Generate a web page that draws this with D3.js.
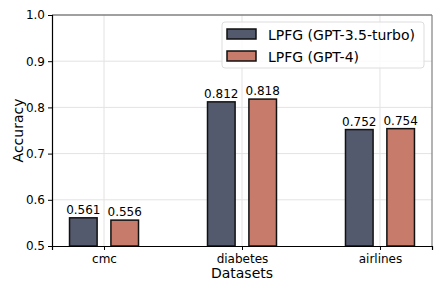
<!DOCTYPE html>
<html>
<head>
<meta charset="utf-8">
<script src="https://d3js.org/d3.v7.min.js"></script>
<style>
  body { margin: 0; background: #fff; }
  text { font-family: "DejaVu Sans", sans-serif; }
</style>
</head>
<body>
<div id="chart"></div>
<script>
// data
const datasets = ["cmc", "diabetes", "airlines"];
const seriesNames = ["LPFG (GPT-3.5-turbo)", "LPFG (GPT-4)"];
const gpt35 = [0.561, 0.812, 0.752];
const gpt4 = [0.556, 0.818, 0.754];
const yTicks = [0.5, 0.6, 0.7, 0.8, 0.9, 1.0];
const colors = ["#545a6e", "#c77b6b"];

const width = 443, height = 295;
const margin = { left: 52, top: 15, right: 11, bottom: 49 };
const innerW = width - margin.left - margin.right;
const innerH = height - margin.top - margin.bottom;

const svg = d3.select("#chart").append("svg")
  .attr("width", width)
  .attr("height", height);

const g = svg.append("g")
  .attr("transform", `translate(${margin.left},${margin.top})`);

// numeric x so the bars sit like matplotlib's offsets
const x = d3.scaleLinear().domain([-0.377, 2.377]).range([0, innerW]);
const y = d3.scaleLinear().domain([0.5, 1.0]).range([innerH, 0]);

// grid
g.selectAll(".hgrid").data(yTicks.slice(1, -1)).enter().append("line")
  .attr("x1", 0).attr("x2", innerW)
  .attr("y1", d => y(d)).attr("y2", d => y(d))
  .attr("stroke", "#e3e3e3").attr("stroke-width", 1);
g.selectAll(".vgrid").data(datasets).enter().append("line")
  .attr("x1", (d, i) => x(i)).attr("x2", (d, i) => x(i))
  .attr("y1", 0).attr("y2", innerH)
  .attr("stroke", "#e3e3e3").attr("stroke-width", 1);

// bars
const barW = 0.2, off = 0.15;
const series = [gpt35, gpt4];
series.forEach((vals, s) => {
  const dx = s === 0 ? -off : off;
  g.selectAll(".bar" + s).data(vals).enter().append("rect")
    .attr("x", (d, i) => x(i + dx - barW / 2))
    .attr("y", d => y(d))
    .attr("width", x(barW) - x(0))
    .attr("height", d => innerH - y(d))
    .attr("fill", colors[s])
    .attr("stroke", "#111")
    .attr("stroke-width", 1.5);
  g.selectAll(".lab" + s).data(vals).enter().append("text")
    .attr("x", (d, i) => x(i + dx))
    .attr("y", d => y(d) - 4)
    .attr("text-anchor", "middle")
    .attr("font-size", "12px")
    .attr("fill", "#000")
    .text(d => d.toFixed(3));
});

// spines: top/right gray, left/bottom black
g.append("line").attr("x1", 0).attr("x2", innerW).attr("y1", 0).attr("y2", 0)
  .attr("stroke", "#808080").attr("stroke-width", 1.5);
g.append("line").attr("x1", innerW).attr("x2", innerW).attr("y1", 0).attr("y2", innerH)
  .attr("stroke", "#808080").attr("stroke-width", 1.2);

// axes
const yAxis = g.append("g")
  .call(d3.axisLeft(y).tickValues(yTicks).tickFormat(d3.format(".1f")).tickSize(4).tickPadding(3));
const xAxis = g.append("g")
  .attr("transform", `translate(0,${innerH})`)
  .call(d3.axisBottom(x).tickValues([0, 1, 2]).tickFormat(i => datasets[i]).tickSize(4).tickPadding(4));
[yAxis, xAxis].forEach(a => {
  a.select(".domain").attr("stroke", "#000").attr("stroke-width", 1.2);
  a.selectAll(".tick line").attr("stroke", "#000");
  a.selectAll("text").attr("font-size", "12px").attr("fill", "#000")
    .style("font-family", "DejaVu Sans, sans-serif");
});

// axis titles
svg.append("text")
  .attr("x", margin.left + innerW / 2).attr("y", 278)
  .attr("text-anchor", "middle").attr("font-size", "14px")
  .text("Datasets");
svg.append("text")
  .attr("transform", `translate(23,${margin.top + innerH / 2}) rotate(-90)`)
  .attr("text-anchor", "middle").attr("font-size", "14px")
  .text("Accuracy");

// legend
const leg = svg.append("g").attr("transform", "translate(222,22)");
leg.append("rect").attr("width", 202).attr("height", 46).attr("rx", 3)
  .attr("fill", "#fff").attr("fill-opacity", 0.85)
  .attr("stroke", "#ddd");
seriesNames.forEach((name, i) => {
  leg.append("rect")
    .attr("x", 5).attr("y", 7 + i * 22)
    .attr("width", 29).attr("height", 10)
    .attr("fill", colors[i]).attr("stroke", "#111").attr("stroke-width", 1.5);
  leg.append("text")
    .attr("x", 46).attr("y", 17.5 + i * 22)
    .attr("font-size", "14px").attr("fill", "#000")
    .text(name);
});
</script>
</body>
</html>
